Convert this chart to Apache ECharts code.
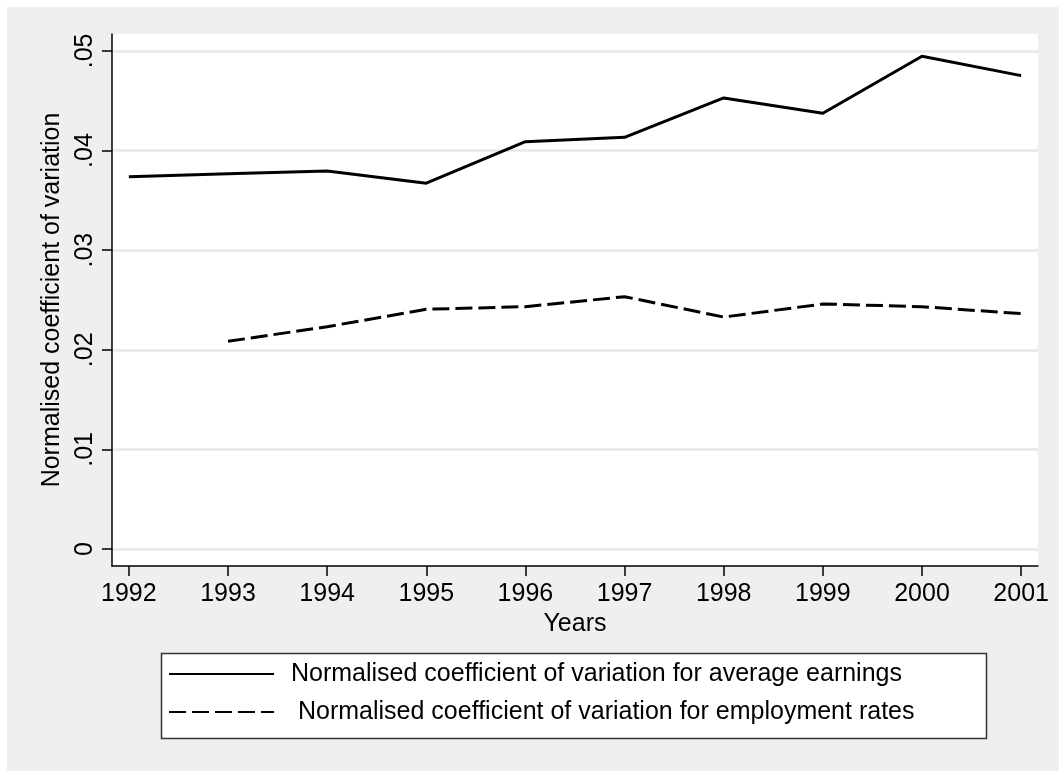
<!DOCTYPE html>
<html>
<head>
<meta charset="utf-8">
<script src="https://cdn.jsdelivr.net/npm/echarts@6/dist/echarts.min.js"></script>
<style>
html,body{margin:0;padding:0;background:#fff;}
#chart{width:1059px;height:771px;}
</style>
</head>
<body>
<div id="chart"></div>
<script>
var years = [1992, 1993, 1994, 1995, 1996, 1997, 1998, 1999, 2000, 2001];
var earnings = [0.03738, 0.03766, 0.03795, 0.03672, 0.04089, 0.04133, 0.04528, 0.04374, 0.04946, 0.04752];
var employment = [null, 0.02085, 0.02232, 0.02407, 0.02433, 0.02533, 0.02329, 0.0246, 0.02433, 0.02363];
var yTickValues = [0, 0.01, 0.02, 0.03, 0.04, 0.05];
var yTickLabels = ['0', '.01', '.02', '.03', '.04', '.05'];
var seriesNames = [
  'Normalised coefficient of variation for average earnings',
  'Normalised coefficient of variation for employment rates'
];
var xTitle = 'Years';
var yTitle = 'Normalised coefficient of variation';

function pairs(vals) {
  var out = [];
  for (var i = 0; i < years.length; i++) {
    if (vals[i] !== null) out.push([years[i], vals[i]]);
  }
  return out;
}

var FONT = '"Liberation Sans", Arial, sans-serif';
var chart = echarts.init(document.getElementById('chart'), null, {renderer: 'canvas'});
var option = {
  animation: false,
  backgroundColor: '#ffffff',
  graphic: [
    {type: 'rect', z: -10, shape: {x: 7, y: 7, width: 1052, height: 764}, style: {fill: '#efefef'}},
    {type: 'rect', z: -5, shape: {x: 161.5, y: 653.5, width: 825, height: 85}, style: {fill: '#ffffff', stroke: '#333', lineWidth: 1.5}}
  ],
  grid: {
    left: 112, right: 21, top: 34, bottom: 205,
    show: true, backgroundColor: '#ffffff', borderWidth: 0
  },
  xAxis: {
    type: 'value',
    min: 1991.83, max: 2001.17,
    name: xTitle,
    nameLocation: 'middle',
    nameGap: 43,
    nameTextStyle: {fontFamily: FONT, fontSize: 25, color: '#000'},
    axisLine: {show: true, onZero: false, lineStyle: {color: '#000', width: 1.5}},
    axisTick: {show: true, length: 10, customValues: years, lineStyle: {color: '#000', width: 1.5}},
    axisLabel: {
      customValues: years,
      margin: 16,
      fontFamily: FONT, fontSize: 25, color: '#000',
      formatter: function (v) { return String(v); }
    },
    splitLine: {show: false}
  },
  yAxis: {
    type: 'value',
    min: -0.0017, max: 0.0517,
    name: yTitle,
    nameLocation: 'middle',
    nameGap: 42,
    nameTextStyle: {fontFamily: FONT, fontSize: 25, color: '#000'},
    axisLine: {show: true, onZero: false, lineStyle: {color: '#000', width: 1.5}},
    axisTick: {show: true, length: 10, customValues: yTickValues, lineStyle: {color: '#000', width: 1.5}},
    axisLabel: {
      customValues: yTickValues,
      rotate: 90,
      margin: 14,
      fontFamily: FONT, fontSize: 25, color: '#000',
      formatter: function (v) {
        for (var i = 0; i < yTickValues.length; i++) {
          if (Math.abs(v - yTickValues[i]) < 1e-9) return yTickLabels[i];
        }
        return '';
      }
    },
    splitLine: {show: true, lineStyle: {color: '#e8e8e8', width: 2.5}}
  },
  legend: {
    show: true,
    orient: 'vertical',
    left: 168,
    top: 660,
    itemWidth: 105,
    itemHeight: 20,
    itemGap: 10,
    padding: 0,
    itemStyle: {opacity: 0},
    textStyle: {fontFamily: FONT, fontSize: 25, color: '#000', lineHeight: 28},
    data: [
      {name: seriesNames[0], textStyle: {padding: [0, 0, 0, 12]}},
      {name: seriesNames[1], textStyle: {padding: [0, 0, 0, 19]}}
    ]
  },
  series: [
    {
      name: seriesNames[0],
      type: 'line',
      data: pairs(earnings),
      symbol: 'none',
      lineStyle: {color: '#000', width: 3, type: 'solid'},
      itemStyle: {color: '#000'}
    },
    {
      name: seriesNames[1],
      type: 'line',
      data: pairs(employment),
      symbol: 'none',
      lineStyle: {color: '#000', width: 3, type: [17, 6]},
      itemStyle: {color: '#000'}
    }
  ]
};
chart.setOption(option);
</script>
</body>
</html>
